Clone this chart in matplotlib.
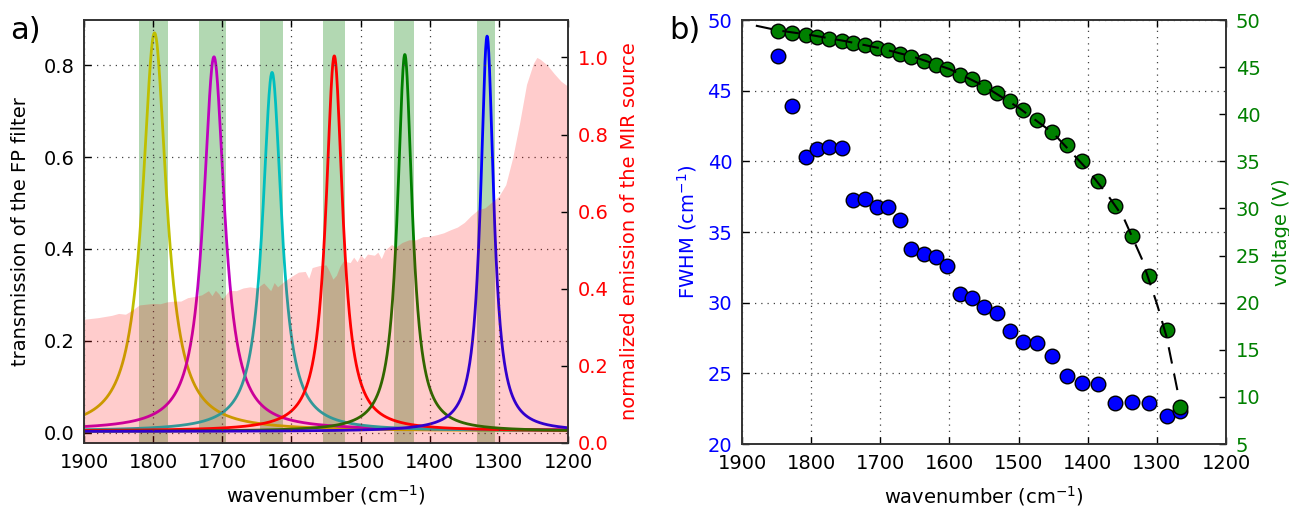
import numpy as np
import matplotlib
matplotlib.use("Agg")
import matplotlib.pyplot as plt

# ---------------- data: panel a ----------------
peak_centers = [1798, 1712, 1628, 1538, 1436, 1317]          # cm-1
peak_heights = [0.870, 0.818, 0.784, 0.820, 0.823, 0.863]
peak_fwhm = [42, 37, 33.5, 29.5, 26, 23]                      # cm-1
peak_base = [0.004, 0.006, 0.004, 0.004, 0.003, 0.003]
peak_colors = ['y', 'm', 'c', 'r', 'g', 'b']

band_lo = [1779, 1695, 1612, 1523, 1423, 1305]
band_hi = [1821, 1733, 1646, 1555, 1451, 1331]

src_wn = [1900, 1890, 1880, 1870, 1860, 1850, 1840, 1830, 1820, 1810, 1800, 1790,
          1780, 1770, 1760, 1750, 1740, 1730, 1720, 1715, 1710, 1705, 1700, 1695,
          1690, 1680, 1670, 1660, 1650, 1640, 1630, 1625, 1620, 1610, 1600, 1590,
          1580, 1575, 1570, 1560, 1550, 1545, 1540, 1535, 1530, 1525, 1515, 1510,
          1505, 1500, 1495, 1490, 1480, 1475, 1470, 1465, 1455, 1450, 1440, 1430,
          1420, 1410, 1400, 1390, 1380, 1370, 1360, 1350, 1340, 1330, 1320, 1310,
          1300, 1290, 1280, 1270, 1260, 1250, 1245, 1240, 1230, 1220, 1210, 1200]
src_val = [0.321, 0.323, 0.325, 0.328, 0.331, 0.336, 0.334, 0.345, 0.358, 0.360, 0.362, 0.361,
           0.366, 0.368, 0.368, 0.377, 0.380, 0.384, 0.395, 0.382, 0.396, 0.387, 0.372, 0.385,
           0.396, 0.395, 0.402, 0.405, 0.402, 0.415, 0.395, 0.416, 0.405, 0.420, 0.432, 0.443,
           0.445, 0.427, 0.455, 0.460, 0.462, 0.445, 0.425, 0.435, 0.458, 0.472, 0.468, 0.482,
           0.470, 0.488, 0.478, 0.490, 0.487, 0.495, 0.478, 0.500, 0.515, 0.507, 0.520, 0.527,
           0.527, 0.535, 0.536, 0.540, 0.545, 0.553, 0.560, 0.572, 0.590, 0.605, 0.610, 0.625,
           0.640, 0.670, 0.740, 0.830, 0.930, 0.985, 1.000, 0.995, 0.980, 0.958, 0.938, 0.925]

# ---------------- data: panel b ----------------
b_wn = [1848, 1827, 1808, 1792, 1774, 1756, 1739, 1722, 1705, 1689, 1672, 1655,
        1637, 1620, 1604, 1585, 1568, 1550, 1531, 1512, 1493, 1473, 1452, 1430,
        1408, 1385, 1361, 1336, 1311, 1286, 1267]
fwhm = [47.48, 43.90, 40.33, 40.86, 41.04, 40.92, 37.29, 37.34, 36.77, 36.77, 35.83, 33.82,
        33.42, 33.23, 32.60, 30.59, 30.31, 29.67, 29.29, 28.02, 27.22, 27.12, 26.25, 24.81,
        24.30, 24.27, 22.90, 22.95, 22.90, 21.96, 22.36]
voltage = [48.84, 48.66, 48.45, 48.24, 48.03, 47.81, 47.53, 47.36, 47.07, 46.80, 46.40, 46.08,
           45.69, 45.20, 44.78, 44.17, 43.75, 42.93, 42.29, 41.44, 40.46, 39.39, 38.12, 36.74,
           35.04, 32.92, 30.30, 27.11, 22.83, 17.10, 8.90]
fit_wn = [1880, 1848, 1800, 1750, 1700, 1650, 1600, 1550, 1500, 1450, 1400, 1370,
          1348, 1322, 1300, 1286, 1270]
fit_v = [49.4, 48.9, 48.4, 47.75, 47.0, 46.05, 44.8, 43.0, 40.7, 38.0, 34.1, 31.3,
         29.0, 24.7, 19.9, 16.4, 10.6]

xticks = [1900, 1800, 1700, 1600, 1500, 1400, 1300, 1200]

plt.rcParams['font.family'] = ['DejaVu Sans']
plt.rcParams['font.size'] = 14
plt.rcParams['mathtext.default'] = 'regular'

fig = plt.figure(figsize=(12.89, 5.07), dpi=100)
axa = fig.add_axes([84/1289, 1-443/507, (568-84)/1289, (443-20)/507])
axb = fig.add_axes([742/1289, 1-444/507, (1226-742)/1289, (444-20)/507])

grid_kw = dict(color='0.25', linestyle=(0, (1, 4)), linewidth=0.9)

def style(ax):
    ax.tick_params(direction='in', length=5, width=1, top=True, labelsize=14, pad=7)
    for s in ax.spines.values():
        s.set_linewidth(1.2)
        s.set_color('0.2')

# ---------------- panel a ----------------
x = np.linspace(1900, 1200, 1400)
for lo, hi in zip(band_lo, band_hi):
    axa.axvspan(lo, hi, color='g', alpha=0.3, lw=0, zorder=0)
for c, h, w, b0, col in zip(peak_centers, peak_heights, peak_fwhm, peak_base, peak_colors):
    g = w / 2.0
    y = b0 + (h - b0) * g**2 / ((x - c)**2 + g**2)
    axa.plot(x, y, color=col, lw=2.0, zorder=2)
axa.set_xlim(1900, 1200)
axa.set_ylim(-0.022, 0.898)
axa.set_xticks(xticks)
axa.set_yticks([0.0, 0.2, 0.4, 0.6, 0.8])
axa.set_yticklabels(['0.0', '0.2', '0.4', '0.6', '0.8'])
axa.grid(True, **grid_kw)
axa.set_axisbelow(False)
axa.set_xlabel('wavenumber (cm$^{-1}$)', fontsize=14, labelpad=8)
axa.set_ylabel('transmission of the FP filter', fontsize=14, labelpad=10)
style(axa)
axa.tick_params(right=False)

axa2 = axa.twinx()
axa2.fill_between(src_wn, 0, src_val, color='r', alpha=0.2, lw=0)
axa2.set_ylim(0, 1.097)
axa2.set_yticks([0.0, 0.2, 0.4, 0.6, 0.8, 1.0])
axa2.set_yticklabels(['0.0', '0.2', '0.4', '0.6', '0.8', '1.0'])
axa2.set_ylabel('normalized emission of the MIR source', color='r', fontsize=14, labelpad=8)
style(axa2)
axa2.tick_params(axis='y', labelcolor='r', left=False)
axa2.set_xlim(1900, 1200)

# ---------------- panel b ----------------
axb.plot(b_wn, fwhm, 'o', color='b', mec='k', mew=1.0, ms=10.5, zorder=3)
axb.set_xlim(1900, 1200)
axb.set_ylim(20, 50)
axb.set_xticks(xticks)
axb.set_yticks([20, 25, 30, 35, 40, 45, 50])
axb.grid(True, **grid_kw)
axb.set_xlabel('wavenumber (cm$^{-1}$)', fontsize=14, labelpad=8)
axb.set_ylabel('FWHM (cm$^{-1}$)', color='b', fontsize=14, labelpad=6)
style(axb)
axb.tick_params(axis='y', labelcolor='b', right=False)

axb2 = axb.twinx()
axb2.plot(b_wn, voltage, 'o', color='g', mec='k', mew=1.0, ms=10.5, zorder=3)
axb2.plot(fit_wn, fit_v, color='k', lw=1.5, dashes=(8, 5), zorder=4)
axb2.set_ylim(5, 50)
axb2.set_yticks([5, 10, 15, 20, 25, 30, 35, 40, 45, 50])
axb2.set_ylabel('voltage (V)', color='g', fontsize=14, labelpad=8)
style(axb2)
axb2.tick_params(axis='y', labelcolor='g', left=False)
axb2.set_xlim(1900, 1200)

fig.text(0.008, 0.94, 'a)', fontsize=22, va='center', ha='left')
fig.text(669/1289, 0.94, 'b)', fontsize=22, va='center', ha='left')

fig.savefig('out.png', dpi=100)
